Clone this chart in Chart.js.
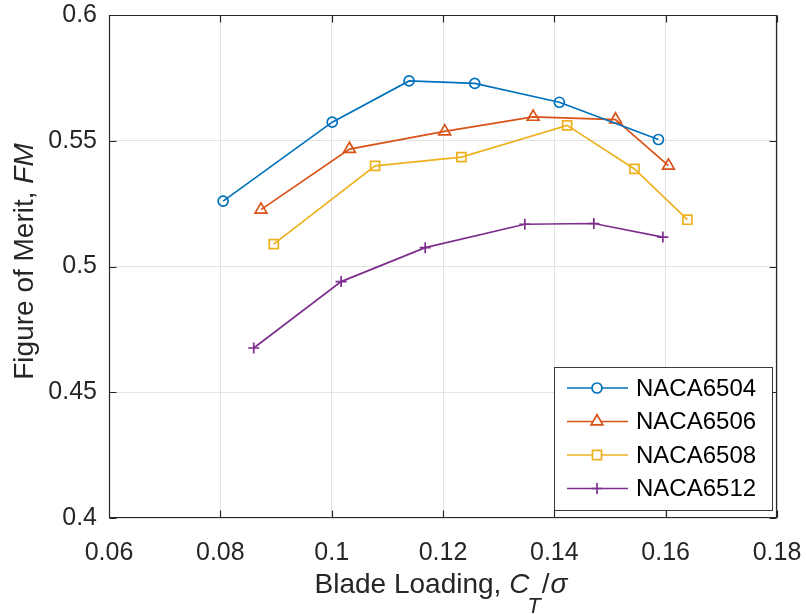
<!DOCTYPE html>
<html>
<head>
<meta charset="utf-8">
<title>Figure of Merit vs Blade Loading</title>
<script src="https://cdn.jsdelivr.net/npm/chart.js@4.4.1/dist/chart.umd.min.js"></script>
<style>
  html, body { margin: 0; padding: 0; background: #fff; }
  #wrap { width: 806px; height: 614px; position: relative; }
</style>
</head>
<body>
<div id="wrap"><canvas id="fmChart" width="806" height="614"></canvas></div>
<script>
/* ── Figure of merit vs blade loading, NACA 65-series sections ── */

const FONT = "'Liberation Sans', Arial, Helvetica, sans-serif";
const AXIS_COLOR = "#262626";
const TICK_LEN = 7;

// ── Data ────────────────────────────────────────────────────────────────────
const airfoils = ["NACA6504", "NACA6506", "NACA6508", "NACA6512"];

const ct6504 = [0.0805, 0.1001, 0.1139, 0.1257, 0.1409, 0.1587];
const fm6504 = [0.5260, 0.5574, 0.5738, 0.5728, 0.5653, 0.5505];

const ct6506 = [0.0873, 0.1032, 0.1203, 0.1362, 0.1510, 0.1605];
const fm6506 = [0.5226, 0.5467, 0.5537, 0.5595, 0.5584, 0.5401];

const ct6508 = [0.0896, 0.1078, 0.1233, 0.1423, 0.1544, 0.1639];
const fm6508 = [0.5089, 0.5400, 0.5435, 0.5561, 0.5388, 0.5186];

const ct6512 = [0.0860, 0.1017, 0.1168, 0.1347, 0.1471, 0.1595];
const fm6512 = [0.4676, 0.4940, 0.5075, 0.5168, 0.5171, 0.5117];

const xTickLabels = ["0.06", "0.08", "0.1", "0.12", "0.14", "0.16", "0.18"];
const yTickLabels = ["0.4", "0.45", "0.5", "0.55", "0.6"];

// ── Styles ──────────────────────────────────────────────────────────────────
const seriesColors = ["#0072BD", "#D95319", "#EDB120", "#7E2F8E"];
const markerStyles = ["circle", "triangle", "rect", "cross"];
const markerRadii  = [5, 6.8, 6.4, 5.5];

const seriesX = [ct6504, ct6506, ct6508, ct6512];
const seriesY = [fm6504, fm6506, fm6508, fm6512];

const datasets = airfoils.map((name, i) => ({
  label: name,
  data: seriesX[i].map((x, j) => ({ x, y: seriesY[i][j] })),
  borderColor: seriesColors[i],
  backgroundColor: "rgba(0,0,0,0)",
  borderWidth: 1.7,
  pointStyle: markerStyles[i],
  pointRadius: markerRadii[i],
  pointHoverRadius: markerRadii[i],
  pointBorderWidth: 1.7,
  pointBackgroundColor: "rgba(0,0,0,0)",
  tension: 0,
}));

// ── Plugins ─────────────────────────────────────────────────────────────────
// box around the axes with inward tick marks on all four sides
const axesFrame = {
  id: "axesFrame",
  afterDatasetsDraw(chart) {
    const { ctx, chartArea: a, scales: { x, y } } = chart;
    const L = Math.round(a.left) + 0.5;
    const R = Math.round(a.right) - 0.5;
    const T = Math.round(a.top) + 0.5;
    const B = Math.round(a.bottom) - 0.5;
    ctx.save();
    ctx.strokeStyle = AXIS_COLOR;
    ctx.lineWidth = 1.2;
    ctx.beginPath();
    ctx.rect(L, T, R - L, B - T);
    x.ticks.forEach((t) => {
      const px = Math.round(x.getPixelForValue(t.value)) + 0.5;
      ctx.moveTo(px, B); ctx.lineTo(px, B - TICK_LEN);
      ctx.moveTo(px, T); ctx.lineTo(px, T + TICK_LEN);
    });
    y.ticks.forEach((t) => {
      const py = Math.round(y.getPixelForValue(t.value)) + 0.5;
      ctx.moveTo(L, py); ctx.lineTo(L + TICK_LEN, py);
      ctx.moveTo(R, py); ctx.lineTo(R - TICK_LEN, py);
    });
    ctx.stroke();
    ctx.restore();
  },
};

// draws a run of differently styled text pieces starting at (x, y)
function drawRuns(ctx, runs, x, y) {
  runs.forEach((r) => {
    ctx.font = r.font;
    ctx.fillText(r.text, x + (r.dx || 0), y + (r.dy || 0));
    x += ctx.measureText(r.text).width + (r.dx || 0);
  });
}

function runsWidth(ctx, runs) {
  return runs.reduce((w, r) => {
    ctx.font = r.font;
    return w + ctx.measureText(r.text).width + (r.dx || 0);
  }, 0);
}

// axis titles with italic symbols and a subscript
const axisTitles = {
  id: "axisTitles",
  afterDraw(chart) {
    const { ctx, chartArea: a } = chart;
    const normal = `28px ${FONT}`;
    const italic = `italic 28px ${FONT}`;
    ctx.save();
    ctx.fillStyle = AXIS_COLOR;
    ctx.textBaseline = "alphabetic";
    ctx.textAlign = "left";

    const xRuns = [
      { text: "Blade Loading, ", font: normal },
      { text: "C", font: italic },
      { text: "T", font: `italic 22px ${FONT}`, dy: 20, dx: -2 },
      { text: "/", font: normal, dx: 1 },
      { text: "σ", font: italic, dx: 1 },
    ];
    const xw = runsWidth(ctx, xRuns);
    drawRuns(ctx, xRuns, (a.left + a.right) / 2 - xw / 2 - 2, 593);

    const yRuns = [
      { text: "Figure of Merit, ", font: normal },
      { text: "FM", font: italic },
    ];
    const yw = runsWidth(ctx, yRuns);
    ctx.translate(33, (a.top + a.bottom) / 2 - 5);
    ctx.rotate(-Math.PI / 2);
    drawRuns(ctx, yRuns, -yw / 2, 0);
    ctx.restore();
  },
};

// boxed legend in the lower right corner, line + marker per entry
const boxLegend = {
  id: "boxLegend",
  afterDraw(chart) {
    const { ctx, chartArea: a } = chart;
    const w = 218, h = 143;
    const left = Math.round(a.right) - 5 - w;
    const top = Math.round(a.bottom) - 8 - h;
    ctx.save();
    ctx.fillStyle = "#fff";
    ctx.fillRect(left, top, w, h);
    ctx.strokeStyle = "#3a3a3a";
    ctx.lineWidth = 1;
    ctx.strokeRect(left + 0.5, top + 0.5, w, h);

    ctx.font = `24px ${FONT}`;
    ctx.textBaseline = "middle";
    ctx.textAlign = "left";
    chart.data.datasets.forEach((ds, i) => {
      const cy = top + 21 + i * 33.5;
      ctx.strokeStyle = ds.borderColor;
      ctx.lineWidth = 1.7;
      ctx.beginPath();
      ctx.moveTo(left + 13, cy);
      ctx.lineTo(left + 74, cy);
      ctx.stroke();
      ctx.fillStyle = "#fff";
      Chart.helpers.drawPoint(ctx, {
        pointStyle: ds.pointStyle,
        radius: ds.pointRadius,
        rotation: 0,
        borderWidth: ds.pointBorderWidth,
      }, left + 43, cy);
      ctx.fillStyle = "#000";
      ctx.fillText(ds.label, left + 82, cy + 1);
    });
    ctx.restore();
  },
};

// ── Chart ───────────────────────────────────────────────────────────────────
const tickFont = { family: FONT, size: 25 };

new Chart(document.getElementById("fmChart"), {
  type: "line",
  data: { datasets },
  plugins: [axesFrame, axisTitles, boxLegend],
  options: {
    responsive: false,
    animation: false,
    devicePixelRatio: 1,
    layout: { padding: { top: 15, right: 29, bottom: 0, left: 0 } },
    plugins: {
      legend: { display: false },
      tooltip: { enabled: false },
    },
    scales: {
      x: {
        type: "linear",
        min: 0.06,
        max: 0.18,
        afterFit: (s) => {
          s.height = 96;
          s.paddingLeft = 0;
          s.paddingRight = 0;
        },
        grid: { color: "#e3e3e3", lineWidth: 1, drawTicks: false },
        border: { display: false },
        ticks: {
          stepSize: 0.02,
          padding: 20,
          color: AXIS_COLOR,
          font: tickFont,
          maxRotation: 0,
          autoSkip: false,
          callback: (v, i) => xTickLabels[i],
        },
      },
      y: {
        type: "linear",
        min: 0.4,
        max: 0.6,
        afterFit: (s) => {
          s.width = 109;
          s.paddingTop = 0;
          s.paddingBottom = 0;
        },
        grid: { color: "#e3e3e3", lineWidth: 1, drawTicks: false },
        border: { display: false },
        ticks: {
          stepSize: 0.05,
          padding: 12,
          color: AXIS_COLOR,
          font: tickFont,
          autoSkip: false,
          callback: (v, i) => yTickLabels[i],
        },
      },
    },
  },
});
</script>
</body>
</html>
